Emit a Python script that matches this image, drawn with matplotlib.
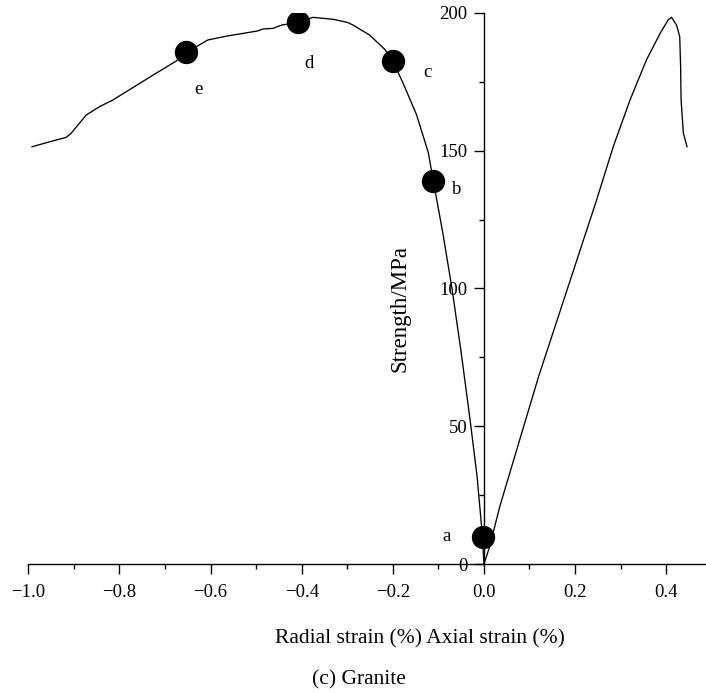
import numpy as np
import matplotlib.pyplot as plt
from matplotlib.ticker import MultipleLocator

plt.rcParams['font.family'] = ['Liberation Serif', 'DejaVu Serif']

# radial strain branch (negative side)
radial_x = [-0.992, -0.953, -0.917, -0.906, -0.891, -0.873, -0.844, -0.814, -0.770,
            -0.726, -0.675, -0.655, -0.631, -0.606, -0.565, -0.521, -0.496, -0.485,
            -0.463, -0.444, -0.409, -0.375, -0.331, -0.300, -0.287, -0.251, -0.217,
            -0.200, -0.177, -0.148, -0.122, -0.111, -0.090, -0.070, -0.050, -0.030,
            -0.015, -0.003, 0.0]
radial_y = [151.4, 153.2, 154.8, 156.3, 159.3, 162.9, 165.9, 168.4, 172.9,
            177.4, 182.5, 185.9, 187.7, 190.1, 191.5, 192.7, 193.4, 194.1,
            194.3, 195.5, 196.5, 198.3, 197.6, 196.5, 195.5, 191.9, 186.6,
            182.5, 174.3, 163.1, 149.3, 139.0, 120.0, 100.0, 77.0, 52.0,
            32.0, 10.0, 0.5]

# axial strain branch (positive side)
axial_x = [0.0, 0.012, 0.035, 0.12, 0.2475, 0.284, 0.321, 0.357, 0.387, 0.405,
           0.412, 0.423, 0.430, 0.432, 0.433, 0.438, 0.441, 0.446]
axial_y = [0.0, 6.0, 21.0, 68.0, 132.1, 151.4, 168.4, 182.9, 192.5, 197.5,
           198.3, 195.5, 191.3, 180.0, 168.4, 156.3, 154.5, 151.4]

# marked stages
stage_x = [-0.003, -0.111, -0.200, -0.409, -0.655]
stage_y = [10.0, 139.0, 182.5, 196.5, 185.9]
stage_lbl = ['a', 'b', 'c', 'd', 'e']
lbl_offset = [(-26, 0), (17, -6.5), (25, -8), (8.5, -29.5), (9.6, -27)]

fig = plt.figure(figsize=(7.06, 6.93), dpi=100)
ax = fig.add_axes([0.0402, 0.1857, 0.9613, 0.796])

ax.plot(radial_x, radial_y, color='black', lw=0.95)
ax.plot(axial_x, axial_y, color='black', lw=0.95)
ax.plot(stage_x, stage_y, 'o', color='black', ms=15.8, zorder=5)

for x, y, t, off in zip(stage_x, stage_y, stage_lbl, lbl_offset):
    ax.annotate(t, (x, y), xytext=off, textcoords='offset points',
                ha='center', va='center', fontsize=13.5)

ax.set_xlim(-1.0, 0.49)
ax.set_ylim(0, 200)

ax.spines['left'].set_position(('data', 0))
ax.spines['top'].set_visible(False)
ax.spines['right'].set_visible(False)
for s in ['left', 'bottom']:
    ax.spines[s].set_linewidth(1.0)

ax.xaxis.set_minor_locator(MultipleLocator(0.1))
ax.yaxis.set_major_locator(MultipleLocator(50))
ax.yaxis.set_minor_locator(MultipleLocator(25))
ax.set_xticks(np.arange(-1.0, 0.41, 0.2))
ax.set_xticklabels(['\u22121.0', '\u22120.8', '\u22120.6', '\u22120.4', '\u22120.2',
                    '0.0', '0.2', '0.4'])

ax.tick_params(which='major', direction='out', length=7, width=1.0,
               labelsize=13.5, pad=5)
ax.tick_params(which='minor', direction='out', length=3.5, width=1.0)
ax.tick_params(axis='x', pad=7)

fig.text(400 / 706, 1 - 308 / 693, 'Strength/MPa', rotation=90,
         ha='center', va='center', fontsize=16.5)
fig.text(420 / 706, 1 - 639 / 693, 'Radial strain (%) Axial strain (%)',
         ha='center', va='center', fontsize=15.5)
fig.text(359 / 706, 1 - 680 / 693, '(c) Granite',
         ha='center', va='center', fontsize=15.5)

fig.savefig('out.png', dpi=100)
